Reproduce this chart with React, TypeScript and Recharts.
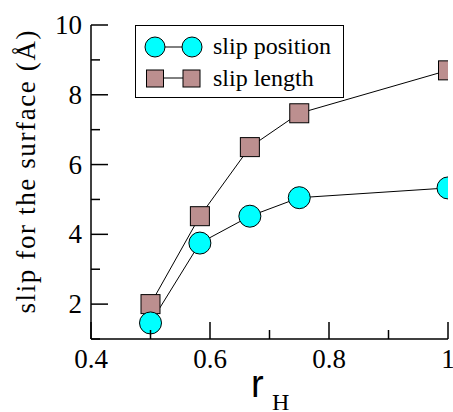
import React from 'react'
import {
  LineChart,
  Line,
  XAxis,
  YAxis,
  Legend,
  Label,
} from "recharts";

const rH = [0.5, 0.583, 0.667, 0.75, 1.0]
const slipPosition = [1.46, 3.75, 4.52, 5.05, 5.33]
const slipLength = [2.0, 4.52, 6.5, 7.47, 8.7]
const xTicks = [0.4, 0.5, 0.6, 0.7, 0.8, 0.9, 1.0]
const yTicks = [1, 2, 3, 4, 5, 6, 7, 8, 9, 10]

const data = rH.map((r, i) => ({ r, pos: slipPosition[i], len: slipLength[i] }))

const SERIF = "Liberation Serif"
const MAJOR = 17
const MINOR = 9

const isMajorX = (v: number) => Math.round(v * 10) % 2 === 0
const isMajorY = (v: number) => v % 2 === 0

function BottomTick({ x, y, payload }: any) {
  const v = payload.value
  const major = isMajorX(v)
  return (
    <g>
      <line x1={x} x2={x} y1={y} y2={y - (major ? MAJOR : MINOR)} stroke="#000" strokeWidth={1.5} />
      {major && (
        <text x={x} y={y + 29} textAnchor="middle" fontSize={27} style={{ fontFamily: SERIF }} fill="#000">
          {Number(v.toFixed(1)) === 1 ? '1' : v.toFixed(1)}
        </text>
      )}
    </g>
  )
}

function TopTick({ x, y, payload }: any) {
  const major = isMajorX(payload.value)
  return <line x1={x} x2={x} y1={y} y2={y + (major ? MAJOR : MINOR)} stroke="#000" strokeWidth={1.5} />
}

function LeftTick({ x, y, payload }: any) {
  const v = payload.value
  const major = isMajorY(v)
  return (
    <g>
      <line x1={x} x2={x + (major ? MAJOR : MINOR)} y1={y} y2={y} stroke="#000" strokeWidth={1.5} />
      {major && (
        <text x={x - 9} y={y + 9} textAnchor="end" fontSize={27} style={{ fontFamily: SERIF }} fill="#000">
          {v}
        </text>
      )}
    </g>
  )
}

function RightTick({ x, y, payload }: any) {
  const major = isMajorY(payload.value)
  return <line x1={x} x2={x - (major ? MAJOR : MINOR)} y1={y} y2={y} stroke="#000" strokeWidth={1.5} />
}

function CircleDot({ cx, cy }: any) {
  if (cx == null || cy == null) return null
  return <circle cx={cx} cy={cy} r={11} fill="#00ffff" stroke="#000" strokeWidth={1} />
}

function SquareDot({ cx, cy }: any) {
  if (cx == null || cy == null) return null
  return <rect x={cx - 9.5} y={cy - 9.5} width={19} height={19} fill="#bc8f8f" stroke="#000" strokeWidth={1} />
}

function LegendBox() {
  return (
    <div style={{ width: 209, height: 73, border: '1.5px solid #000', background: '#fff', boxSizing: 'border-box' }}>
      <svg width={206} height={70} style={{ display: 'block' }}>
        <line x1={19} x2={56} y1={21} y2={21} stroke="#000" />
        <circle cx={19} cy={21} r={10} fill="#00ffff" stroke="#000" />
        <circle cx={56} cy={21} r={10} fill="#00ffff" stroke="#000" />
        <text x={77} y={28} fontSize={24} style={{ fontFamily: SERIF }} fill="#000">slip position</text>
        <line x1={19} x2={56} y1={52} y2={52} stroke="#000" />
        <rect x={10.5} y={44} width={17} height={17} fill="#bc8f8f" stroke="#000" />
        <rect x={47} y={44} width={17} height={17} fill="#bc8f8f" stroke="#000" />
        <text x={77} y={60} fontSize={24} style={{ fontFamily: SERIF }} fill="#000">slip length</text>
      </svg>
    </div>
  )
}

function YLabel() {
  return (
    <text
      transform="translate(35, 172) rotate(-90)"
      textAnchor="middle"
      fontSize={27}
      style={{ fontFamily: SERIF }}
      fill="#000"
      textLength={283}
      lengthAdjust="spacing"
    >
      slip for the surface (Å)
    </text>
  )
}

function XLabel() {
  return (
    <g>
      <text x={251} y={397} fontSize={38} style={{ fontFamily: 'Liberation Sans' }} fill="#000">r</text>
      <text x={272} y={410} fontSize={24} style={{ fontFamily: SERIF }} fill="#000">H</text>
    </g>
  )
}

export default function App() {
  return (
    <div style={{ position: 'absolute', left: 0, top: 0, background: '#fff' }}>
      <LineChart width={453} height={412} data={data} margin={{ top: 25, right: 5, bottom: 0, left: 0 }}>
        <XAxis
          xAxisId="b"
          dataKey="r"
          type="number"
          domain={[0.4, 1]}
          ticks={xTicks}
          interval={0}
          allowDataOverflow
          height={73}
          tickSize={0}
          tickMargin={0}
          tickLine={false}
          axisLine={{ stroke: '#000', strokeWidth: 1.5 }}
          tick={<BottomTick />}
        >
          <Label content={<XLabel />} />
        </XAxis>
        <XAxis
          xAxisId="t"
          orientation="top"
          dataKey="r"
          type="number"
          domain={[0.4, 1]}
          ticks={xTicks}
          interval={0}
          allowDataOverflow
          height={0}
          tickSize={0}
          tickMargin={0}
          tickLine={false}
          axisLine={{ stroke: '#000', strokeWidth: 1.5 }}
          tick={<TopTick />}
        />
        <YAxis
          yAxisId="l"
          type="number"
          domain={[1, 10]}
          ticks={yTicks}
          interval={0}
          allowDataOverflow
          width={91}
          tickSize={0}
          tickMargin={0}
          tickLine={false}
          axisLine={{ stroke: '#000', strokeWidth: 1.5 }}
          tick={<LeftTick />}
        >
          <Label content={<YLabel />} />
        </YAxis>
        <YAxis
          yAxisId="r"
          orientation="right"
          type="number"
          domain={[1, 10]}
          ticks={yTicks}
          interval={0}
          allowDataOverflow
          width={0}
          tickSize={0}
          tickMargin={0}
          tickLine={false}
          axisLine={{ stroke: '#000', strokeWidth: 1.5 }}
          tick={<RightTick />}
        />
        <Legend
          layout="horizontal"
          verticalAlign="middle"
          align="center"
          content={<LegendBox />}
          wrapperStyle={{ left: 135, top: 25, width: 209, height: 73 }}
        />
        <Line
          xAxisId="b"
          yAxisId="l"
          dataKey="len"
          stroke="#000"
          strokeWidth={1}
          dot={<SquareDot />}
          isAnimationActive={false}
        />
        <Line
          xAxisId="b"
          yAxisId="l"
          dataKey="pos"
          stroke="#000"
          strokeWidth={1}
          dot={<CircleDot />}
          isAnimationActive={false}
        />
      </LineChart>
    </div>
  )
}
